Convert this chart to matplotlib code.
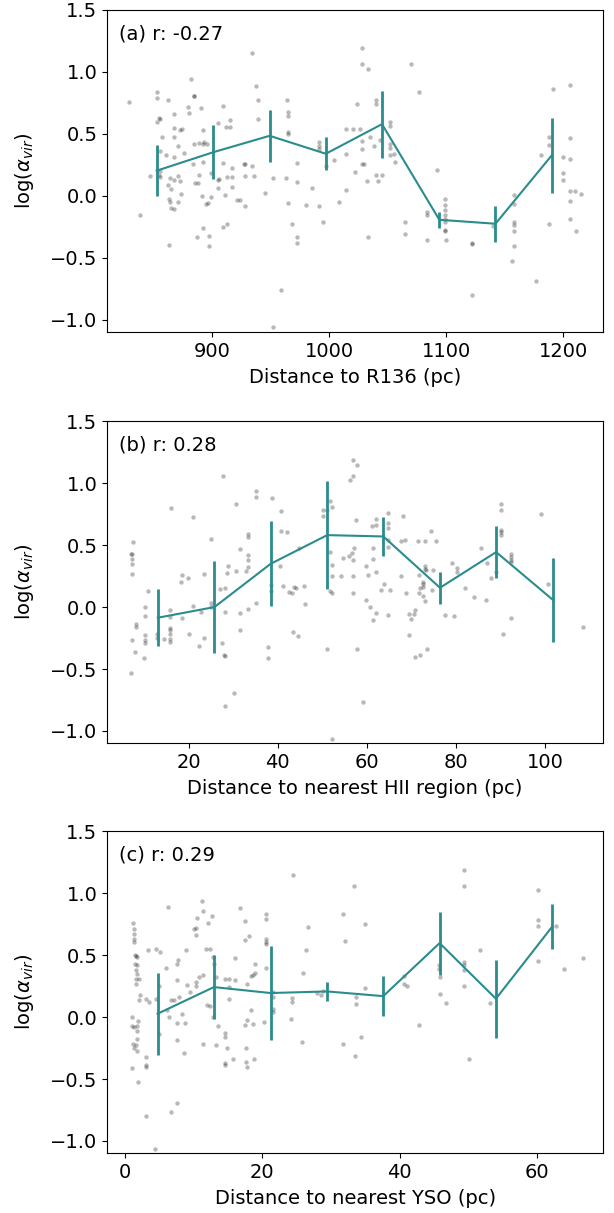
import matplotlib
matplotlib.use("Agg")
import matplotlib.pyplot as plt
import numpy as np

# (a) distance to R136
r136_x = [
    829, 934, 882, 937.5, 853, 853, 862, 884, 884, 939,
    890, 879, 880, 909, 964, 964.5, 965, 867, 854, 855,
    853, 915, 905, 939, 857, 867, 872, 874, 867, 912,
    915, 965, 964.5, 892, 892, 893, 871, 855, 860, 867,
    876, 884, 889, 895.5, 883.5, 892, 909, 917, 927, 928,
    933.5, 972, 853, 855, 854, 855, 847, 864, 867, 871,
    872, 889, 888, 885, 899, 905, 906, 912.5, 917, 927.5,
    936, 952, 963, 972, 862, 864.5, 873, 905, 911, 916.5,
    945, 985, 863, 864, 871, 865, 867, 891.5, 895, 896,
    899, 921, 924, 928, 964.5, 980, 991, 838, 968, 995,
    892, 909, 912.5, 887, 897, 897, 972, 972, 863, 959,
    952, 991, 991, 991, 997, 1004, 1014, 1014, 1014, 1008,
    1028, 1028, 1033, 1070, 1077, 1024, 1040, 1040, 1020, 1026,
    1028, 1028, 1035, 1038, 1043, 1052, 1052, 1052, 1052, 1055,
    1052, 1056, 1022, 1028, 1030, 1032, 1040, 1042, 1045, 1033,
    1092, 1083.5, 1083.5, 1099, 1099, 1099, 1099, 1099, 1099, 1099,
    1099, 1064.5, 1065, 1083.5, 1100, 1121.6, 1121.6, 1121.6, 1158, 1158,
    1158, 1158, 1158, 1158, 1156, 1140, 1177, 1181, 1188, 1188,
    1188, 1191, 1206, 1206, 1206, 1200, 1200, 1200, 1206, 1210,
    1215, 1206, 1206, 1211,
]
r136_y = [
    0.755, 1.151, 0.944, 0.882, 0.836, 0.788, 0.769, 0.809, 0.806, 0.774,
    0.707, 0.715, 0.667, 0.728, 0.769, 0.680, 0.645, 0.659, 0.626, 0.621,
    0.594, 0.613, 0.586, 0.621, 0.478, 0.546, 0.532, 0.538, 0.478, 0.551,
    0.551, 0.511, 0.495, 0.527, 0.419, 0.430, 0.398, 0.358, 0.325, 0.312,
    0.344, 0.419, 0.425, 0.419, 0.258, 0.272, 0.263, 0.228, 0.258, 0.255,
    0.237, 0.263, 0.210, 0.196, 0.169, 0.151, 0.156, 0.142, 0.124, 0.156,
    0.118, 0.169, 0.105, 0.099, 0.183, 0.129, 0.134, 0.148, 0.151, 0.156,
    0.156, 0.142, 0.142, 0.108, 0.083, 0.056, 0.016, 0.059, 0.003, 0.070,
    0.024, 0.059, -0.027, -0.051, -0.048, -0.099, -0.108, 0.0, -0.065, -0.056,
    -0.013, -0.032, -0.032, -0.086, -0.059, -0.073, -0.083, -0.156, -0.226, -0.212,
    -0.263, -0.255, -0.226, -0.333, -0.323, -0.406, -0.336, -0.382, -0.401, -0.763,
    -1.061, 0.430, 0.398, 0.379, 0.237, 0.290, 0.538, 0.336, 0.048, -0.054,
    1.196, 1.065, 1.027, 1.065, 0.836, 0.739, 0.774, 0.742, 0.538, 0.538,
    0.438, 0.379, 0.478, 0.398, 0.452, 0.599, 0.567, 0.419, 0.384, 0.336,
    0.325, 0.272, 0.191, 0.253, 0.253, 0.121, 0.169, 0.121, 0.169, -0.333,
    0.204, -0.132, -0.153, -0.024, -0.073, -0.113, -0.153, -0.185, -0.215, -0.274,
    -0.282, -0.215, -0.309, -0.355, -0.355, -0.384, -0.390, -0.798, 0.003, -0.070,
    -0.212, -0.239, -0.282, -0.406, -0.524, -0.242, -0.691, 0.325, 0.478, 0.406,
    -0.226, 0.860, 0.895, 0.468, 0.298, 0.312, 0.183, 0.129, 0.035, 0.035,
    0.013, -0.046, -0.188, -0.285,
]
r136_bin_x = [853, 901, 949, 997, 1045, 1094, 1142, 1190]
r136_bin_y = [0.204, 0.352, 0.484, 0.339, 0.578, -0.194, -0.226, 0.325]
r136_bin_err = [0.204, 0.22, 0.21, 0.135, 0.27, 0.063, 0.147, 0.30]

# (b) distance to nearest HII region
hii_x = [
    27.8, 35.1, 35.1, 38.7, 30.7, 16.1, 21.1, 40.7, 25.1, 7.5,
    33.3, 33.3, 31.5, 40.7, 42.1, 44.7, 7.4, 7.1, 7.4, 7.4,
    7.4, 18.5, 19.9, 18.4, 23.4, 28.8, 28.7, 30.7, 33.3, 33.3,
    33.3, 32.8, 40.4, 38.4, 38.4, 41.2, 43.7, 44.0, 42.5, 43.3,
    45.8, 46.1, 10.8, 10.2, 10.2, 8.2, 8.2, 7.4, 8.0, 10.2,
    10.2, 10.2, 10.1, 7.0, 15.8, 15.8, 15.8, 15.8, 15.8, 15.8,
    15.8, 14.4, 13.0, 13.0, 18.5, 20.9, 20.2, 22.8, 22.4, 23.4,
    25.1, 25.1, 27.1, 28.2, 28.1, 27.4, 28.0, 28.2, 31.5, 31.5,
    33.4, 35.1, 37.8, 37.8, 43.4, 44.5, 30.1, 28.1, 51.1, 52.1,
    51.1, 51.8, 52.1, 50.2, 50.2, 51.8, 52.1, 52.1, 51.7, 52.1,
    54.1,
    56.9, 57.8, 56.9, 56.2, 57.5, 62.1, 62.1, 61.2, 64.8, 64.8,
    64.8, 64.8, 64.8, 68.1, 57.1, 56.7, 56.9, 54.7, 55.9, 61.4,
    61.4, 62.1, 59.9, 60.2, 56.8, 59.7, 56.8, 60.8, 62.1, 61.4,
    64.8, 63.8, 63.1, 65.2, 67.7, 68.8, 68.5, 67.6, 71.5, 73.1,
    75.5, 74.4, 73.0, 71.8, 73.0, 73.3, 72.7, 72.7, 72.7, 74.8,
    74.7, 71.9, 71.8, 72.7, 73.0, 69.4, 70.0, 70.7, 70.6, 69.4,
    70.7, 71.9, 73.4, 77.5, 79.6, 79.0, 80.3, 80.3, 82.0, 84.1,
    86.8, 85.7, 87.0, 87.9, 88.9, 90.0, 90.0, 90.0, 90.0, 90.0,
    92.3, 92.3, 92.3, 92.3, 92.4, 90.6, 99.0, 100.7, 108.4, 59.1,
    57.8,
]
hii_y = [
    1.062, 0.941, 0.892, 0.882, 0.833, 0.798, 0.726, 0.774, 0.548, 0.524,
    0.591, 0.565, 0.465, 0.618, 0.610, 0.478, 0.430, 0.425, 0.390, 0.344,
    0.266, 0.258, 0.237, 0.202, 0.263, 0.331, 0.274, 0.293, 0.417, 0.384,
    0.323, 0.290, 0.333, 0.180, 0.126, 0.167, 0.164, 0.153, 0.118, 0.113,
    0.167, 0.022, 0.129, 0.0, -0.075, -0.134, -0.161, -0.263, -0.363, -0.228,
    -0.263, -0.290, -0.409, -0.530, -0.027, -0.081, -0.172, -0.183, -0.220, -0.258,
    -0.285, -0.255, -0.215, -0.247, -0.086, 0.008, -0.220, -0.038, -0.315, -0.253,
    0.035, 0.0, 0.148, 0.151, -0.038, -0.288, -0.384, -0.392, -0.048, -0.188,
    -0.016, 0.035, -0.325, -0.409, -0.202, -0.231, -0.696, -0.801, -0.336, -1.067,
    0.780, 0.860, 0.806, 0.780, 0.739, 0.444, 0.336, 0.250, 0.132, 0.116,
    0.250,
    1.188, 1.148, 1.062, 1.027, 0.704, 0.712, 0.659, 0.653, 0.761, 0.680,
    0.640, 0.538, 0.484, 0.737, 0.478, 0.435, 0.382, 0.395, 0.409, 0.478,
    0.392, 0.282, 0.331, 0.258, 0.250, 0.059, 0.116, 0.0, -0.046, -0.108,
    -0.062, 0.188, 0.140, 0.140, 0.250, 0.116, 0.543, 0.530, 0.532, 0.532,
    0.532, 0.618, 0.331, 0.261, 0.304, 0.296, 0.202, 0.188, 0.161, 0.296,
    0.134, 0.153, 0.113, 0.086, 0.046, -0.054, -0.099, -0.027, -0.054, -0.228,
    -0.403, -0.390, -0.336, -0.062, -0.075, 0.355, 0.317, 0.282, 0.153, 0.081,
    0.059, 0.476, 0.355, 0.237, 0.282, 0.833, 0.785, 0.626, 0.605, 0.578,
    0.425, 0.403, 0.382, 0.363, -0.086, -0.215, 0.750, 0.188, -0.159, -0.766,
    -0.336,
]
hii_bin_x = [13.1, 25.8, 38.4, 51.1, 63.7, 76.4, 89.0, 101.7]
hii_bin_y = [-0.086, 0.0, 0.349, 0.581, 0.570, 0.156, 0.444, 0.059]
hii_bin_err = [0.228, 0.372, 0.344, 0.434, 0.161, 0.128, 0.212, 0.339]

# (c) distance to nearest YSO
yso_x = [
    24.4, 11.2, 6.27, 11.4, 12.7, 10.5, 12.1, 16.7, 17.5, 20.5,
    20.5, 31.7, 1.21, 1.31, 1.31, 1.31, 1.31, 10.3, 10.1, 10.4,
    18.1, 17.5, 20.5, 20.5, 20.5, 26.6, 3.30, 4.47, 5.05, 1.46,
    1.60, 1.70, 1.51, 1.70, 1.60, 1.70, 1.60, 2.04, 1.60, 7.68,
    7.63, 8.84, 6.03, 11.8, 12.4, 12.8, 16.0, 18.9, 20.5, 25.9,
    26.4, 32.1, 2.19, 2.09, 3.11, 3.50, 4.52, 5.00, 6.07, 6.46,
    6.71, 7.09, 7.58, 7.82, 8.31, 7.53, 8.75, 9.09, 9.48, 10.3,
    10.4, 10.8, 11.4, 12.0, 12.4, 12.8, 12.9, 13.2, 13.6, 14.5,
    15.1, 15.1, 15.2, 14.5, 14.5, 16.0, 17.7, 18.4, 18.6, 18.9,
    18.4, 17.7, 17.5, 18.7, 20.2, 21.5, 21.5, 21.6, 21.6, 24.3,
    24.3, 24.2, 25.8, 28.0, 28.8, 28.6, 31.7, 1.02, 1.07, 1.31,
    1.70, 1.94, 1.70, 1.70, 1.12, 1.60, 1.26, 1.70, 1.07, 3.01,
    3.01, 3.11, 1.94, 4.96, 7.58, 8.65, 11.3, 13.2, 14.9, 15.8,
    17.6, 18.8, 14.5, 14.5, 17.6, 17.7, 7.58, 6.71, 3.06, 4.37,
    49.3, 49.3, 33.3, 60.1, 35.0, 51.7, 45.7, 45.7, 45.8, 49.3,
    49.3, 49.3, 49.3, 40.6, 40.6, 41.1, 35.0, 33.7, 33.7, 45.8,
    46.7, 53.2, 60.1, 60.1, 62.7, 60.1, 63.9, 66.6, 42.8, 34.4,
    33.5, 50.1,
]
yso_y = [
    1.148, 0.941, 0.892, 0.860, 0.812, 0.798, 0.761, 0.882, 0.774, 0.833,
    0.788, 0.833, 0.763, 0.707, 0.667, 0.632, 0.605, 0.718, 0.707, 0.659,
    0.656, 0.624, 0.632, 0.605, 0.586, 0.726, 0.543, 0.551, 0.524, 0.505,
    0.492, 0.484, 0.430, 0.417, 0.382, 0.349, 0.309, 0.309, 0.269, 0.462,
    0.430, 0.538, 0.395, 0.546, 0.546, 0.484, 0.476, 0.430, 0.395, 0.355,
    0.538, 0.618, 0.180, 0.134, 0.148, 0.121, 0.142, 0.247, 0.054, 0.0,
    0.140, 0.140, 0.296, 0.161, 0.027, -0.048, -0.048, 0.255, 0.202, 0.285,
    0.250, 0.323, 0.336, 0.094, 0.089, 0.0, 0.430, 0.323, -0.075, 0.309,
    0.304, 0.242, 0.142, -0.129, -0.161, 0.296, 0.263, 0.331, 0.341, 0.358,
    0.054, -0.027, -0.067, -0.054, -0.040, 0.202, 0.161, 0.040, 0.067, 0.156,
    0.121, -0.013, -0.202, 0.194, 0.207, 0.180, -0.215, 0.0, -0.075, -0.081,
    -0.075, -0.032, -0.116, -0.175, -0.215, -0.228, -0.250, -0.277, -0.409, -0.323,
    -0.390, -0.403, -0.524, -0.134, -0.188, -0.288, -0.215, -0.228, -0.250, -0.336,
    -0.250, -0.336, -0.368, -0.390, -0.363, -0.403, -0.694, -0.766, -0.798, -1.067,
    1.191, 1.062, 1.062, 1.027, 0.753, 0.538, 0.419, 0.390, 0.323, 0.444,
    0.422, 0.382, 0.247, 0.333, 0.269, 0.247, 0.237, 0.161, 0.108, 0.188,
    0.116, 0.116, 0.780, 0.739, 0.739, 0.452, 0.392, 0.476, -0.062, -0.159,
    -0.315, -0.336,
]
yso_bin_x = [4.76, 12.96, 21.2, 29.4, 37.6, 45.8, 54.0, 62.2]
yso_bin_y = [0.027, 0.242, 0.194, 0.207, 0.169, 0.597, 0.148, 0.731]
yso_bin_err = [0.331, 0.261, 0.376, 0.077, 0.159, 0.255, 0.313, 0.183]

panels = [
    (r136_x, r136_y, r136_bin_x, r136_bin_y, r136_bin_err,
     "(a) r: -0.27", "Distance to R136 (pc)", (810, 1234), [900, 1000, 1100, 1200]),
    (hii_x, hii_y, hii_bin_x, hii_bin_y, hii_bin_err,
     "(b) r: 0.28", "Distance to nearest HII region (pc)", (1.7, 113), [20, 40, 60, 80, 100]),
    (yso_x, yso_y, yso_bin_x, yso_bin_y, yso_bin_err,
     "(c) r: 0.29", "Distance to nearest YSO (pc)", (-2.6, 69.6), [0, 20, 40, 60]),
]

fig = plt.figure(figsize=(6.14, 12.13), dpi=100)
bottoms = [0.7263, 0.3872, 0.0492]
line_col = "#2a8c8c"
fs = 14

for (x, y, bx, by, be, tag, xlabel, xlim, xt), b in zip(panels, bottoms):
    ax = fig.add_axes([0.1743, b, 0.808, 0.2655])
    ax.scatter(x, y, s=10, c="k", alpha=0.28, linewidths=0)
    ax.errorbar(bx, by, yerr=be, color=line_col, lw=1.5, elinewidth=2, capsize=0)
    ax.set_xlim(*xlim)
    ax.set_ylim(-1.1, 1.5)
    ax.set_xticks(xt)
    ax.set_yticks([-1.0, -0.5, 0.0, 0.5, 1.0, 1.5])
    ax.tick_params(labelsize=fs)
    ax.set_xlabel(xlabel, fontsize=fs, labelpad=5)
    ax.set_ylabel(r"log($\alpha_{vir}$)", fontsize=fs)
    ax.yaxis.set_label_coords(-0.143, 0.5)
    ax.text(0.025, 0.925, tag, transform=ax.transAxes, fontsize=fs, va="center")

fig.savefig("out.png", dpi=100)
